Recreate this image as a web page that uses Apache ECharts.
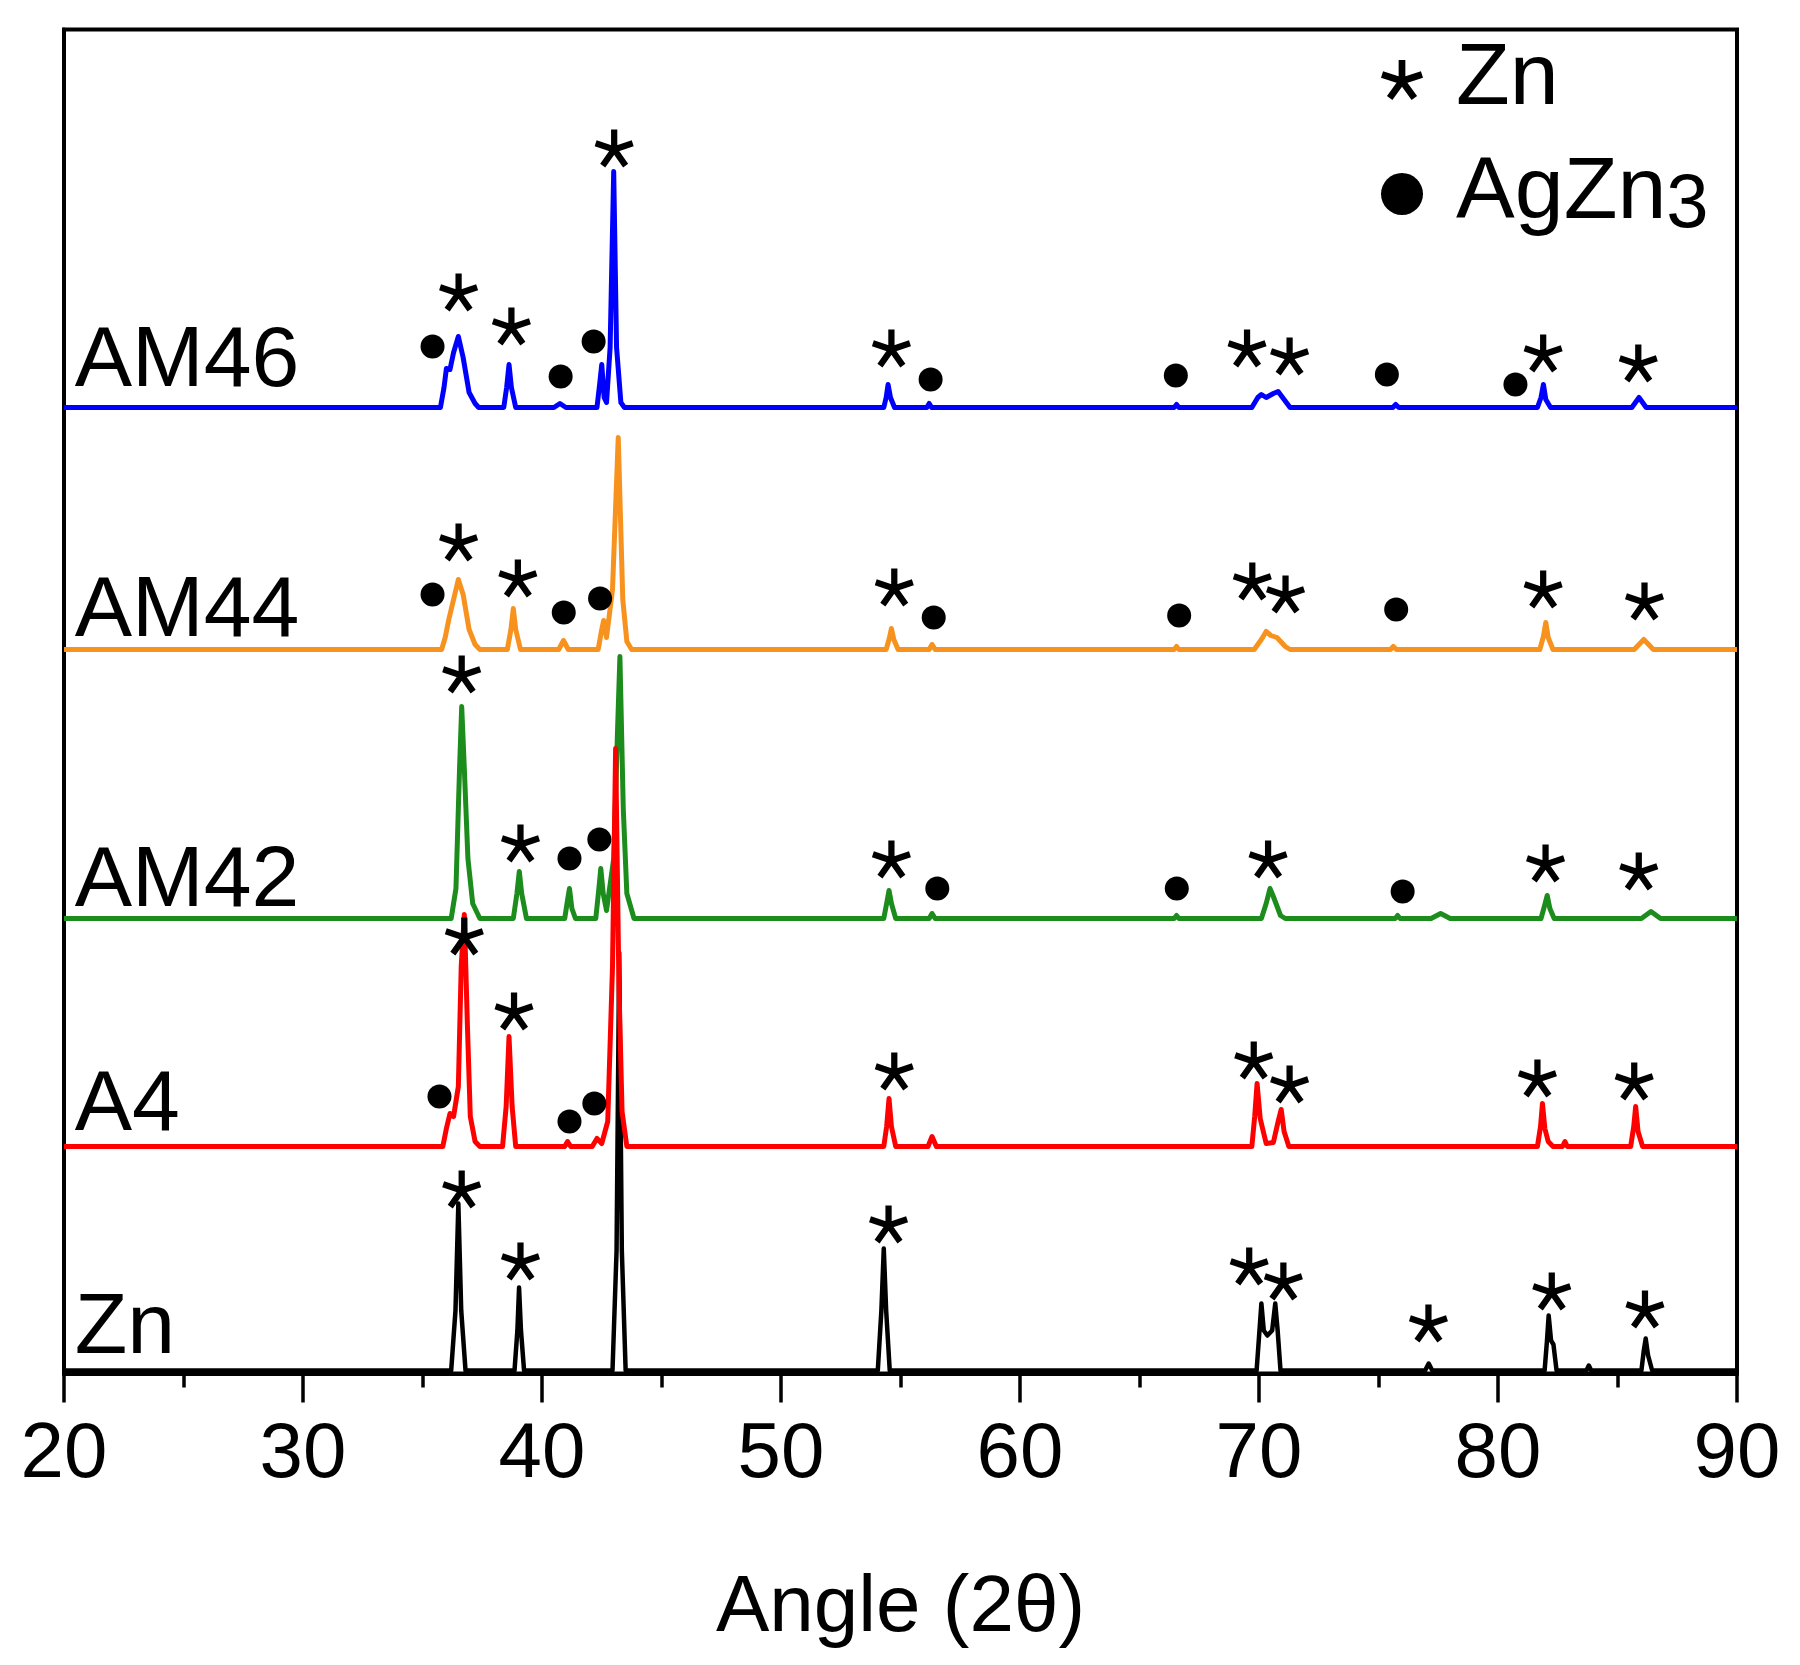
<!DOCTYPE html>
<html>
<head>
<meta charset="utf-8">
<script src="https://cdn.jsdelivr.net/npm/echarts@6/dist/echarts.min.js"></script>
<style>
html,body{margin:0;padding:0;background:#fff;}
#chart{width:1800px;height:1665px;}
</style>
</head>
<body>
<div id="chart"></div>
<script>
// ---- data (2θ in degrees, intensity in a.u. above each pattern's own baseline) ----
const samples = ['AM46', 'AM44', 'AM42', 'A4', 'Zn'];
const offsets = [966, 724, 455, 227, 3];
const phaseNames = ['Zn', 'AgZn3'];

const patternAM46 = [[20,0],[35.75,0],[35.9,20],[36.0,39],[36.15,38],[36.3,55],[36.5,71],[36.7,50],[36.95,15],[37.2,4],[37.35,0],[38.4,0],[38.52,20],[38.62,43],[38.72,20],[38.9,0],[40.5,0],[40.75,4],[41.0,0],[42.3,0],[42.42,25],[42.5,43],[42.6,10],[42.7,5],[42.85,60],[43.0,236],[43.12,60],[43.3,5],[43.45,0],[54.3,0],[54.4,10],[54.48,23],[54.58,10],[54.75,0],[56.1,0],[56.2,4],[56.3,0],[66.45,0],[66.55,3],[66.65,0],[69.7,0],[69.95,10],[70.1,13],[70.3,10],[70.6,14],[70.8,16],[71.05,8],[71.3,0],[75.6,0],[75.72,3],[75.85,0],[81.65,0],[81.8,10],[81.9,23],[82.0,8],[82.2,0],[85.6,0],[85.9,10],[86.2,0],[90,0]];
const patternAM44 = [[20,0],[35.8,0],[35.95,12],[36.1,30],[36.25,45],[36.5,70],[36.7,55],[36.95,20],[37.2,5],[37.4,0],[38.55,0],[38.7,20],[38.8,41],[38.9,20],[39.1,0],[40.7,0],[40.9,9],[41.1,0],[42.35,0],[42.5,20],[42.58,29],[42.7,12],[42.95,60],[43.19,212],[43.38,50],[43.55,8],[43.75,0],[54.4,0],[54.52,10],[54.62,21],[54.72,10],[54.9,0],[56.2,0],[56.32,5],[56.45,0],[66.45,0],[66.55,3],[66.65,0],[69.8,0],[70.1,10],[70.3,18],[70.5,14],[70.75,12],[71.1,3],[71.3,0],[75.5,0],[75.62,3],[75.75,0],[81.75,0],[81.9,13],[82.0,27],[82.1,12],[82.3,0],[85.7,0],[86.1,10],[86.5,0],[90,0]];
const patternAM42 = [[20,0],[36.2,0],[36.4,30],[36.55,150],[36.64,212],[36.75,150],[36.9,60],[37.1,15],[37.4,0],[38.8,0],[38.95,25],[39.05,47],[39.15,25],[39.35,0],[40.95,0],[41.08,20],[41.15,30],[41.25,10],[41.4,0],[42.25,0],[42.38,30],[42.46,50],[42.56,25],[42.7,8],[43.0,60],[43.15,180],[43.26,262],[43.4,110],[43.55,25],[43.85,0],[54.3,0],[54.42,15],[54.52,28],[54.62,15],[54.8,0],[56.2,0],[56.32,5],[56.45,0],[66.45,0],[66.55,3],[66.65,0],[70.1,0],[70.3,15],[70.46,30],[70.6,22],[70.9,3],[71.1,0],[75.7,0],[75.8,3],[75.9,0],[77.2,0],[77.6,5],[78.0,0],[81.8,0],[81.95,13],[82.06,23],[82.17,10],[82.35,0],[86.0,0],[86.4,7],[86.8,0],[90,0]];
const patternA4 = [[20,0],[35.85,0],[36.0,18],[36.15,33],[36.3,30],[36.5,60],[36.62,180],[36.75,232],[36.88,120],[37.0,30],[37.2,5],[37.4,0],[38.35,0],[38.5,40],[38.62,110],[38.75,40],[38.9,0],[40.95,0],[41.07,5],[41.2,0],[42.1,0],[42.3,8],[42.5,3],[42.75,25],[42.95,180],[43.08,398],[43.22,160],[43.35,35],[43.55,0],[54.3,0],[54.42,20],[54.52,48],[54.62,20],[54.8,0],[56.15,0],[56.32,10],[56.5,0],[69.7,0],[69.82,30],[69.92,63],[70.05,28],[70.3,3],[70.6,4],[70.8,25],[70.93,37],[71.05,15],[71.25,0],[81.65,0],[81.78,20],[81.86,43],[81.96,18],[82.1,5],[82.3,0],[82.7,0],[82.8,5],[82.9,0],[85.55,0],[85.68,20],[85.76,40],[85.86,15],[86.05,0],[90,0]];
const patternZn = [[20,0],[36.2,0],[36.38,60],[36.5,167],[36.62,60],[36.8,0],[38.85,0],[38.97,40],[39.04,83],[39.12,40],[39.25,0],[42.95,0],[43.12,120],[43.23,418],[43.34,120],[43.5,0],[54.05,0],[54.2,60],[54.3,122],[54.4,60],[54.55,0],[69.9,0],[70.02,40],[70.1,67],[70.2,40],[70.35,35],[70.55,40],[70.68,67],[70.78,40],[70.9,0],[76.95,0],[77.1,7],[77.25,0],[81.95,0],[82.05,30],[82.12,55],[82.22,30],[82.32,26],[82.45,0],[83.7,0],[83.8,5],[83.9,0],[86.0,0],[86.1,20],[86.18,32],[86.28,15],[86.45,0],[90,0]];

// phase markers: [2θ, height above the pattern baseline]
const starsAM46 = [[36.51,115],[38.72,81],[43.02,259],[54.62,59],[69.5,59],[71.28,51],[81.89,54],[85.87,44]];
const dotsAM46  = [[35.42,61],[40.78,31],[42.16,66],[56.26,28],[66.52,32],[75.35,33],[80.73,23]];
const starsAM44 = [[36.51,107],[38.99,71],[54.74,62],[69.72,68],[71.11,55],[81.89,60],[86.13,48]];
const dotsAM44  = [[35.42,55],[40.91,37],[42.43,51],[56.39,32],[66.66,34],[75.74,40]];
const starsAM42 = [[36.64,244],[39.10,75],[54.62,59],[70.38,59],[81.99,55],[85.89,47]];
const dotsAM42  = [[41.15,60],[42.40,79],[56.54,30],[66.56,30],[76.01,27]];
const starsA4   = [[36.75,210],[38.83,135],[54.74,75],[69.78,86],[71.28,62],[81.65,68],[85.70,65]];
const dotsA4    = [[35.71,50],[41.15,25],[42.19,43]];
const starsZn   = [[36.64,181],[39.10,109],[54.5,146],[69.59,104],[71.02,89],[77.09,47],[82.25,79],[86.15,61]];
const dotsZn    = [];

// ---- styling ----
const patterns = [patternAM46, patternAM44, patternAM42, patternA4, patternZn];
const starSets = [starsAM46, starsAM44, starsAM42, starsA4, starsZn];
const dotSets  = [dotsAM46, dotsAM44, dotsAM42, dotsA4, dotsZn];
const colors = ['#0000ff', '#f7921e', '#1c8c1c', '#ff0000', '#000000'];
const lineWidths = [5, 5, 5, 5, 4.5];
const drawOrder = [0, 1, 2, 4, 3];
const labelShift = [2, -6, -7, -3, -2];
const FONT = '"Liberation Sans", Arial, Helvetica, sans-serif';
const STAR = 'path://M59,51 L59,1 L43,1 L43,51 Z M53.47,58.61 L101.02,43.16 L96.08,27.94 L48.53,43.39 Z M44.53,55.70 L73.92,96.15 L86.86,86.75 L57.47,46.30 Z M44.53,46.30 L15.14,86.75 L28.08,96.15 L57.47,55.70 Z M53.47,43.39 L5.92,27.94 L0.98,43.16 L48.53,58.61 Z';

const shift = (arr, off) => arr.map(p => [p[0], p[1] + off]);

const series = [];
drawOrder.forEach(i => {
  series.push({
    name: 'pattern ' + samples[i],
    type: 'line',
    data: shift(patterns[i], offsets[i]),
    showSymbol: false,
    symbol: 'none',
    smooth: false,
    silent: true,
    lineStyle: { color: colors[i], width: lineWidths[i], join: 'round', opacity: 1 },
    itemStyle: { color: colors[i] },
    z: 2
  });
});

let starData = [], dotData = [];
samples.forEach((s, i) => {
  starData = starData.concat(shift(starSets[i], offsets[i]));
  dotData = dotData.concat(shift(dotSets[i], offsets[i]));
});

series.push({
  name: phaseNames[0],
  type: 'scatter',
  data: starData,
  symbol: STAR,
  symbolSize: [39, 38],
  itemStyle: { color: '#000', opacity: 1 },
  silent: true,
  z: 5
});
series.push({
  name: phaseNames[1],
  type: 'scatter',
  data: dotData,
  symbol: 'circle',
  symbolSize: 24,
  itemStyle: { color: '#000', opacity: 1 },
  silent: true,
  z: 5
});
series.push({
  name: 'sample labels',
  type: 'scatter',
  data: samples.map((s, i) => ({ name: s, value: [20.45, offsets[i] + labelShift[i]] })),
  symbolSize: 0,
  silent: true,
  itemStyle: { color: '#000', opacity: 1 },
  label: {
    show: true,
    formatter: '{b}',
    position: 'inside',
    align: 'left',
    verticalAlign: 'bottom',
    fontSize: 86,
    color: '#000',
    opacity: 1,
    fontFamily: FONT
  },
  z: 6
});

const chart = echarts.init(document.getElementById('chart'), null, { renderer: 'canvas' });
chart.setOption({
  animation: false,
  backgroundColor: '#fff',
  textStyle: { fontFamily: FONT },
  grid: {
    left: 64, right: 63, top: 29.5, bottom: 291.5,
    containLabel: false,
    show: true, borderColor: '#000', borderWidth: 4, backgroundColor: 'transparent'
  },
  legend: {
    data: phaseNames,
    orient: 'vertical',
    left: 1381,
    top: 36,
    padding: 0,
    itemWidth: 42,
    itemHeight: 42,
    itemGap: 26,
    selectedMode: false,
    formatter: function (name) {
      if (name === 'AgZn3') return '{g|}{t|AgZn}{s|3}';
      return '{g|}{t|' + name + '}';
    },
    textStyle: {
      color: '#000',
      fontFamily: FONT,
      rich: {
        g: { width: 28, lineHeight: 100 },
        t: { fontSize: 88, lineHeight: 100, color: '#000', fontFamily: FONT },
        s: { fontSize: 76, lineHeight: 40, verticalAlign: 'bottom', color: '#000', fontFamily: FONT }
      }
    }
  },
  xAxis: {
    type: 'value',
    min: 20, max: 90, interval: 10,
    axisLine: { show: true, onZero: false, lineStyle: { color: '#000', width: 4 } },
    axisTick: { show: true, inside: false, length: 29, lineStyle: { color: '#000', width: 3.5 } },
    minorTick: { show: true, splitNumber: 2, length: 14, lineStyle: { color: '#000', width: 3.5 } },
    axisLabel: { fontSize: 78, color: '#000', margin: 43, fontFamily: FONT },
    splitLine: { show: false },
    minorSplitLine: { show: false },
    name: 'Angle (2θ)',
    nameLocation: 'middle',
    nameGap: 195,
    nameTextStyle: { fontSize: 80, color: '#000', fontFamily: FONT }
  },
  yAxis: {
    type: 'value',
    min: 0, max: 1344,
    axisLine: { show: true, lineStyle: { color: '#000', width: 4 } },
    axisTick: { show: false },
    axisLabel: { show: false },
    splitLine: { show: false }
  },
  series: series
});
</script>
</body>
</html>
